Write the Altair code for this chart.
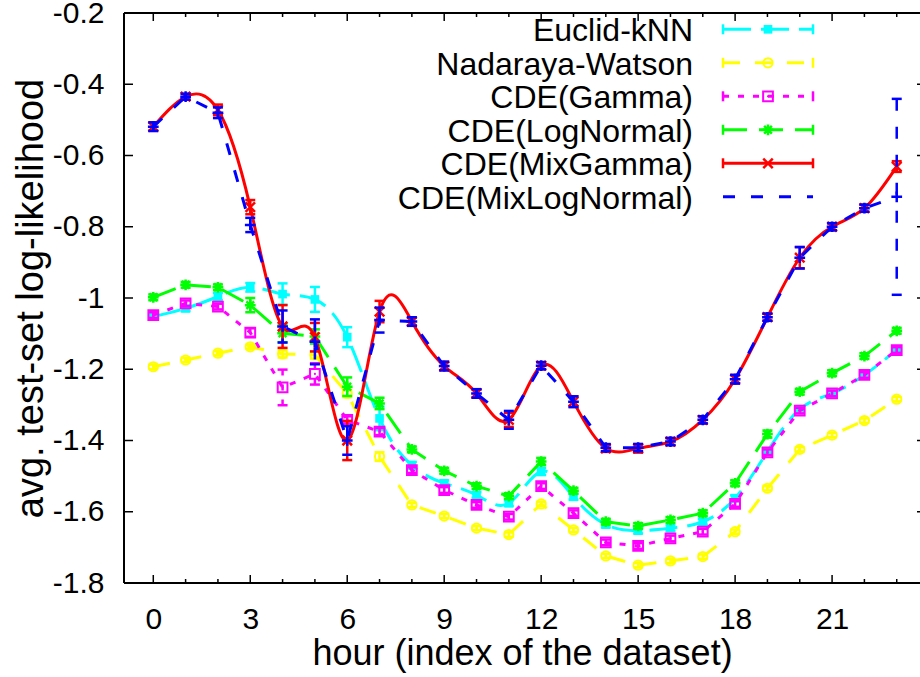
import altair as alt
import pandas as pd

# ---------------- data ----------------
hours = list(range(24))

series_names = ["Euclid-kNN", "Nadaraya-Watson", "CDE(Gamma)",
                "CDE(LogNormal)", "CDE(MixGamma)", "CDE(MixLogNormal)"]

knn_vals = [-1.052, -1.029, -0.996, -0.970, -0.989, -1.004, -1.110, -1.338,
            -1.470, -1.520, -1.553, -1.576, -1.487, -1.558, -1.636, -1.653,
            -1.646, -1.628, -1.562, -1.431, -1.312, -1.268, -1.216, -1.146]
knn_errs = [0.008, 0.008, 0.010, 0.012, 0.030, 0.035, 0.028, 0.033,
            0.010, 0.008, 0.008, 0.008, 0.010, 0.008, 0.008, 0.008,
            0.008, 0.008, 0.008, 0.008, 0.008, 0.008, 0.008, 0.008]

nw_vals = [-1.193, -1.174, -1.155, -1.137, -1.157, -1.160, -1.268, -1.445,
           -1.581, -1.612, -1.646, -1.664, -1.578, -1.651, -1.724, -1.750,
           -1.738, -1.726, -1.656, -1.534, -1.425, -1.385, -1.344, -1.284]
nw_errs = [0.006, 0.006, 0.006, 0.006, 0.010, 0.010, 0.010, 0.012,
           0.006, 0.006, 0.006, 0.006, 0.006, 0.006, 0.006, 0.006,
           0.006, 0.006, 0.006, 0.006, 0.006, 0.006, 0.006, 0.006]

gamma_vals = [-1.048, -1.015, -1.024, -1.097, -1.251, -1.213, -1.342, -1.375,
              -1.483, -1.539, -1.581, -1.614, -1.528, -1.604, -1.686, -1.696,
              -1.675, -1.656, -1.578, -1.433, -1.316, -1.268, -1.216, -1.146]
gamma_errs = [0.008, 0.008, 0.008, 0.012, 0.050, 0.030, 0.010, 0.010,
              0.008, 0.008, 0.008, 0.008, 0.008, 0.008, 0.008, 0.008,
              0.008, 0.008, 0.008, 0.008, 0.008, 0.008, 0.008, 0.008]

lognormal_vals = [-0.998, -0.963, -0.970, -1.020, -1.099, -1.108, -1.249, -1.296,
                  -1.425, -1.485, -1.528, -1.556, -1.459, -1.541, -1.628, -1.640,
                  -1.623, -1.604, -1.520, -1.382, -1.263, -1.211, -1.163, -1.092]
lognormal_errs = [0.008, 0.008, 0.008, 0.020, 0.025, 0.020, 0.026, 0.016,
                  0.008, 0.008, 0.008, 0.008, 0.010, 0.008, 0.008, 0.008,
                  0.008, 0.008, 0.008, 0.010, 0.008, 0.008, 0.008, 0.008]

mixgamma_vals = [-0.519, -0.435, -0.472, -0.745, -1.080, -1.110, -1.400, -1.038,
                 -1.066, -1.191, -1.268, -1.342, -1.190, -1.291, -1.422, -1.422,
                 -1.403, -1.342, -1.228, -1.054, -0.887, -0.800, -0.748, -0.631]
mixgamma_errs = [0.012, 0.008, 0.015, 0.020, 0.060, 0.040, 0.055, 0.030,
                 0.012, 0.012, 0.012, 0.020, 0.010, 0.015, 0.010, 0.012,
                 0.010, 0.010, 0.012, 0.010, 0.030, 0.010, 0.010, 0.015]

mixlognormal_vals = [-0.519, -0.435, -0.480, -0.795, -1.080, -1.123, -1.400, -1.062,
                     -1.066, -1.191, -1.268, -1.342, -1.190, -1.291, -1.420, -1.420,
                     -1.403, -1.342, -1.228, -1.054, -0.887, -0.800, -0.748, -0.716]
mixlognormal_errs = [0.012, 0.008, 0.015, 0.020, 0.045, 0.063, 0.040, 0.035,
                     0.012, 0.012, 0.012, 0.025, 0.010, 0.015, 0.010, 0.010,
                     0.010, 0.010, 0.012, 0.010, 0.030, 0.010, 0.010, 0.275]

x_tick_values = [0, 3, 6, 9, 12, 15, 18, 21]
x_minor_values = [h for h in hours if h not in x_tick_values]
y_tick_values = [-1.8, -1.6, -1.4, -1.2, -1.0, -0.8, -0.6, -0.4, -0.2]

# ---------------- styling ----------------
FONT = "Liberation Sans"
W, H = 796, 570
xs = alt.Scale(domain=[-0.906, 23.72], nice=False, zero=False)
ys = alt.Scale(domain=[-1.8, -0.2], nice=False, zero=False)

xaxis = alt.Axis(values=x_tick_values, title="hour (index of the dataset)",
                 ticks=False, domain=False, grid=False,
                 labelFontSize=30, titleFontSize=36, labelPadding=21,
                 titlePadding=2, labelColor="black", titleColor="black",
                 titleFontWeight="normal", labelFont=FONT, titleFont=FONT,
                 labelFlush=False)
yaxis = alt.Axis(values=y_tick_values, title="avg. test-set log-likelihood",
                 labelExpr="'-' + format(abs(datum.value), '.1~f')",
                 ticks=False, domain=False, grid=False,
                 labelFontSize=30, titleFontSize=38, labelPadding=20,
                 titlePadding=2, labelColor="black", titleColor="black",
                 titleFontWeight="normal", labelFont=FONT, titleFont=FONT,
                 labelFlush=False)


def X(f):
    return alt.X(f, type="quantitative", scale=xs, axis=xaxis)


def Y(f):
    return alt.Y(f, type="quantitative", scale=ys, axis=yaxis)


STAR = "M-1,0L1,0M0,-1L0,1M-0.72,-0.72L0.72,0.72M-0.72,0.72L0.72,-0.72"
CROSS = "M-1,-1L1,1M-1,1L1,-1"
PLUS = "M-1,0L1,0M0,-1L0,1"
CAP = "M-1,0L1,0"

styles = {
    "Euclid-kNN": dict(color="#00FFFF", dash=[28, 10], interp="natural",
                       marker=dict(shape="square", filled=True, size=75, strokeWidth=1),
                       dot=False, caps=True),
    "Nadaraya-Watson": dict(color="#FFFF00", dash=[17, 15], interp="linear",
                            marker=dict(shape="circle", filled=False, size=85, strokeWidth=2),
                            dot=True, caps=True),
    "CDE(Gamma)": dict(color="#FF00FF", dash=[6, 9], interp="linear",
                       marker=dict(shape="square", filled=False, size=95, strokeWidth=2),
                       dot=True, caps=True),
    "CDE(LogNormal)": dict(color="#00FF00", dash=[24, 12], interp="linear",
                           marker=dict(shape=STAR, filled=False, size=115, strokeWidth=2.5),
                           dot=False, caps=True),
    "CDE(MixGamma)": dict(color="#FF0000", dash=None, interp="natural",
                          marker=dict(shape=CROSS, filled=False, size=90, strokeWidth=2.5),
                          dot=False, caps=True),
    "CDE(MixLogNormal)": dict(color="#0000FF", dash=[12, 16], interp="linear",
                              marker=dict(shape=PLUS, filled=False, size=115, strokeWidth=2.5),
                              dot=False, caps=False),
}

series_data = {
    "Euclid-kNN": (knn_vals, knn_errs),
    "Nadaraya-Watson": (nw_vals, nw_errs),
    "CDE(Gamma)": (gamma_vals, gamma_errs),
    "CDE(LogNormal)": (lognormal_vals, lognormal_errs),
    "CDE(MixGamma)": (mixgamma_vals, mixgamma_errs),
    "CDE(MixLogNormal)": (mixlognormal_vals, mixlognormal_errs),
}

layers = []

for name in series_names:
    vals, errs = series_data[name]
    st = styles[name]
    df = pd.DataFrame({
        "hour": hours, "v": vals,
        "lo": [v - e for v, e in zip(vals, errs)],
        "hi": [v + e for v, e in zip(vals, errs)],
    })
    base = alt.Chart(df)
    line_kw = dict(color=st["color"], strokeWidth=3, interpolate=st["interp"], clip=True)
    bar_kw = dict(color=st["color"], strokeWidth=2.5)
    if st["dash"]:
        line_kw["strokeDash"] = st["dash"]
        bar_kw["strokeDash"] = st["dash"]
    layers.append(base.mark_line(**line_kw).encode(x=X("hour"), y=Y("v")))
    layers.append(base.mark_rule(**bar_kw).encode(
        x=X("hour"), y=Y("hi"), y2=alt.Y2("lo")))
    for f in ("lo", "hi"):
        layers.append(base.mark_point(shape=CAP, size=100, strokeWidth=2.5, filled=False,
                                      color=st["color"], opacity=1).encode(x=X("hour"), y=Y(f)))
    m = st["marker"]
    layers.append(base.mark_point(shape=m["shape"], filled=m["filled"], size=m["size"],
                                  strokeWidth=m["strokeWidth"], color=st["color"],
                                  opacity=1).encode(x=X("hour"), y=Y("v")))
    if st["dot"]:
        layers.append(base.mark_point(shape="circle", filled=True, size=5,
                                      color=st["color"], opacity=1).encode(x=X("hour"), y=Y("v")))

# ---------------- frame and inward ticks ----------------
one = pd.DataFrame({"a": [0]})
for enc in (dict(x=alt.value(0), y=alt.value(0), y2=alt.value(H)),
            dict(x=alt.value(0), x2=alt.value(W), y=alt.value(0)),
            dict(x=alt.value(0), x2=alt.value(W), y=alt.value(H))):
    layers.append(alt.Chart(one).mark_rule(color="black", strokeWidth=2).encode(**enc))

xmaj = alt.Chart(pd.DataFrame({"t": x_tick_values}))
xmin = alt.Chart(pd.DataFrame({"t": x_minor_values}))
ytk = alt.Chart(pd.DataFrame({"t": y_tick_values}))
layers += [
    xmaj.mark_rule(color="black", strokeWidth=1.5).encode(x=X("t"), y=alt.value(H), y2=alt.value(H - 8)),
    xmaj.mark_rule(color="black", strokeWidth=1.5).encode(x=X("t"), y=alt.value(0), y2=alt.value(8)),
    xmin.mark_rule(color="black", strokeWidth=1.5).encode(x=X("t"), y=alt.value(H), y2=alt.value(H - 4)),
    xmin.mark_rule(color="black", strokeWidth=1.5).encode(x=X("t"), y=alt.value(0), y2=alt.value(4)),
    ytk.mark_rule(color="black", strokeWidth=1.5).encode(y=Y("t"), x=alt.value(0), x2=alt.value(9)),
    ytk.mark_rule(color="black", strokeWidth=1.5).encode(y=Y("t"), x=alt.value(W - 3), x2=alt.value(W)),
]

# ---------------- legend (gnuplot style, top right) ----------------
LX_TEXT, LX0, LX1 = 569, 599, 689
for i, name in enumerate(series_names):
    st = styles[name]
    cy = 16.3 + 33.5 * i
    ldf = pd.DataFrame({"name": [name]})
    lb = alt.Chart(ldf)
    layers.append(lb.mark_text(align="right", baseline="alphabetic", fontSize=32, font=FONT,
                               color="black").encode(text="name:N", x=alt.value(LX_TEXT),
                                                     y=alt.value(cy + 12)))
    rk = dict(color=st["color"], strokeWidth=3)
    if st["dash"]:
        rk["strokeDash"] = st["dash"]
    layers.append(lb.mark_rule(**rk).encode(x=alt.value(LX0), x2=alt.value(LX1), y=alt.value(cy)))
    if st["caps"]:
        for xx in (LX0, LX1):
            layers.append(lb.mark_rule(color=st["color"], strokeWidth=2.5).encode(
                x=alt.value(xx), y=alt.value(cy - 5), y2=alt.value(cy + 5)))
        m = st["marker"]
        layers.append(lb.mark_point(shape=m["shape"], filled=m["filled"], size=m["size"],
                                    strokeWidth=m["strokeWidth"], color=st["color"],
                                    opacity=1).encode(x=alt.value(644), y=alt.value(cy)))
        if st["dot"]:
            layers.append(lb.mark_point(shape="circle", filled=True, size=5, color=st["color"],
                                        opacity=1).encode(x=alt.value(644), y=alt.value(cy)))

chart = alt.layer(*layers).properties(
    width=W, height=H,
    autosize=alt.AutoSizeParams(type="none"),
    padding={"left": 124, "top": 13, "right": 0, "bottom": 94},
    background="white",
).configure_view(stroke=None).configure(font=FONT)

chart.save("out.html", embed_options={"renderer": "svg", "actions": False})
